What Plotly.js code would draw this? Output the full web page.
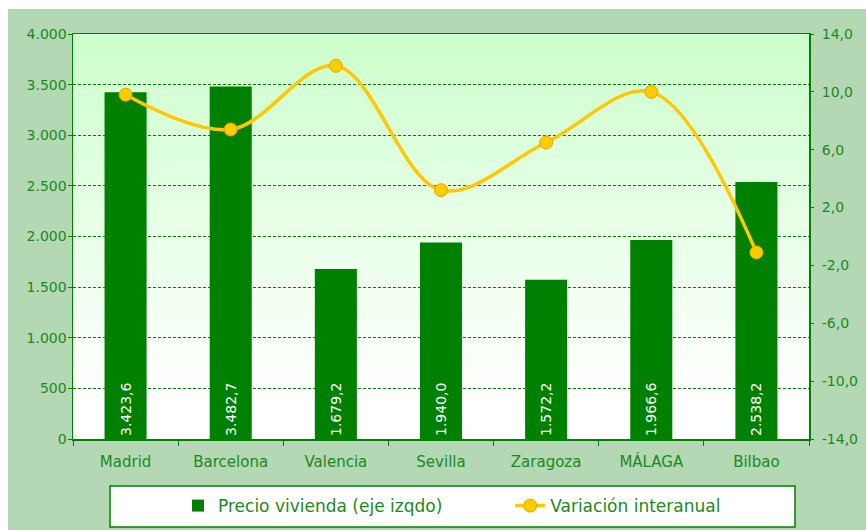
<!DOCTYPE html>
<html>
<head>
<meta charset="utf-8">
<script src="https://cdn.plot.ly/plotly-3.0.1.min.js"></script>
<style>
  html, body { margin: 0; padding: 0; background: #ffffff; }
  #graph { position: absolute; left: 8px; top: 9px; width: 858px; height: 521px; }
</style>
</head>
<body>
<div id="graph"></div>
<script>
// ciudades y valores
const ciudades = ['Madrid', 'Barcelona', 'Valencia', 'Sevilla', 'Zaragoza', 'MÁLAGA', 'Bilbao'];
const precioVivienda = [3423.6, 3482.7, 1679.2, 1940.0, 1572.2, 1966.6, 2538.2];
const variacionInteranual = [9.8, 7.4, 11.8, 3.2, 6.5, 10.0, -1.1];
const ticksDerecha = [-14, -10, -6, -2, 2, 6, 10, 14];

const verde = '#008000';
const textoVerde = '#1a8a1a';

// fondo degradado del área de trazado
const fondo = 'data:image/svg+xml;utf8,' + encodeURIComponent(
    '<svg xmlns="http://www.w3.org/2000/svg" width="10" height="100" preserveAspectRatio="none">' +
    '<defs><linearGradient id="g" x1="0" y1="0" x2="0" y2="1">' +
    '<stop offset="0" stop-color="#ccffcc"/><stop offset="0.88" stop-color="#ffffff"/></linearGradient></defs>' +
    '<rect width="10" height="100" fill="url(#g)"/></svg>');

const data = [{
    x: ciudades, y: precioVivienda,
    type: 'bar',
    name: 'Precio vivienda (eje izqdo)',
    legend: 'legend',
    marker: { color: verde },
    width: 0.4,
    texttemplate: '%{y:,.1f}',
    textposition: 'inside',
    insidetextanchor: 'start',
    textangle: -90,
    insidetextfont: { color: 'white', size: 14, family: 'DejaVu Sans' },
    hoverinfo: 'skip'
}, {
    x: ciudades, y: variacionInteranual,
    type: 'scatter', mode: 'lines+markers',
    name: 'Variación interanual',
    legend: 'legend2',
    yaxis: 'y2',
    line: { color: '#ffc800', width: 3.5, shape: 'spline', smoothing: 1 },
    marker: { color: '#ffcc00', size: 13, line: { color: '#f0a000', width: 1 } }
}];

const legendaBase = {
    orientation: 'h',
    xanchor: 'left',
    yref: 'container',
    y: 0.046, yanchor: 'middle',
    bgcolor: 'rgba(0,0,0,0)',
    font: { size: 17, color: textoVerde }
};

const layout = {
    width: 858, height: 521,
    margin: { l: 65, r: 57, t: 25, b: 91 },
    paper_bgcolor: '#b3d8b3',
    plot_bgcolor: 'rgba(0,0,0,0)',
    separators: ',.',
    font: { family: 'DejaVu Sans', color: textoVerde, size: 13 },
    showlegend: true,
    xaxis: {
        type: 'category',
        showline: true, linecolor: verde, linewidth: 1.5, mirror: true,
        ticks: 'outside', tickson: 'boundaries', ticklen: 5, tickcolor: verde,
        ticklabelstandoff: 8,
        tickfont: { size: 15, color: textoVerde },
        showgrid: false
    },
    yaxis: {
        range: [0, 4000], dtick: 500, tickformat: ',d',
        showline: true, linecolor: verde, linewidth: 1.5, mirror: true,
        ticks: 'outside', ticklen: 4, tickcolor: verde,
        gridcolor: verde, griddash: '3px,2px', gridwidth: 1,
        ticklabelstandoff: -2,
        tickfont: { size: 14, color: textoVerde },
        zeroline: false
    },
    yaxis2: {
        overlaying: 'y', side: 'right',
        range: [-14, 14],
        tickmode: 'array', tickvals: ticksDerecha,
        ticktext: ticksDerecha.map(v => v.toFixed(1).replace('.', ',')),
        showgrid: false, zeroline: false,
        ticks: 'outside', ticklen: 4, tickcolor: verde,
        ticklabelstandoff: 5,
        tickfont: { size: 14, color: textoVerde }
    },
    legend: Object.assign({ x: 0.1427 }, legendaBase),
    legend2: Object.assign({ x: 0.594 }, legendaBase),
    images: [{
        source: fondo, xref: 'paper', yref: 'paper',
        x: 0, y: 1, sizex: 1, sizey: 1, xanchor: 'left', yanchor: 'top',
        sizing: 'stretch', layer: 'below'
    }],
    shapes: [{
        type: 'rect', xref: 'paper', yref: 'paper',
        x0: 0.0503, x1: 0.981, y0: -0.116, y1: -0.217,
        fillcolor: 'white', line: { color: verde, width: 1.5 }, layer: 'below'
    }]
};

Plotly.newPlot('graph', data, layout, { displayModeBar: false, staticPlot: true });
</script>
</body>
</html>
